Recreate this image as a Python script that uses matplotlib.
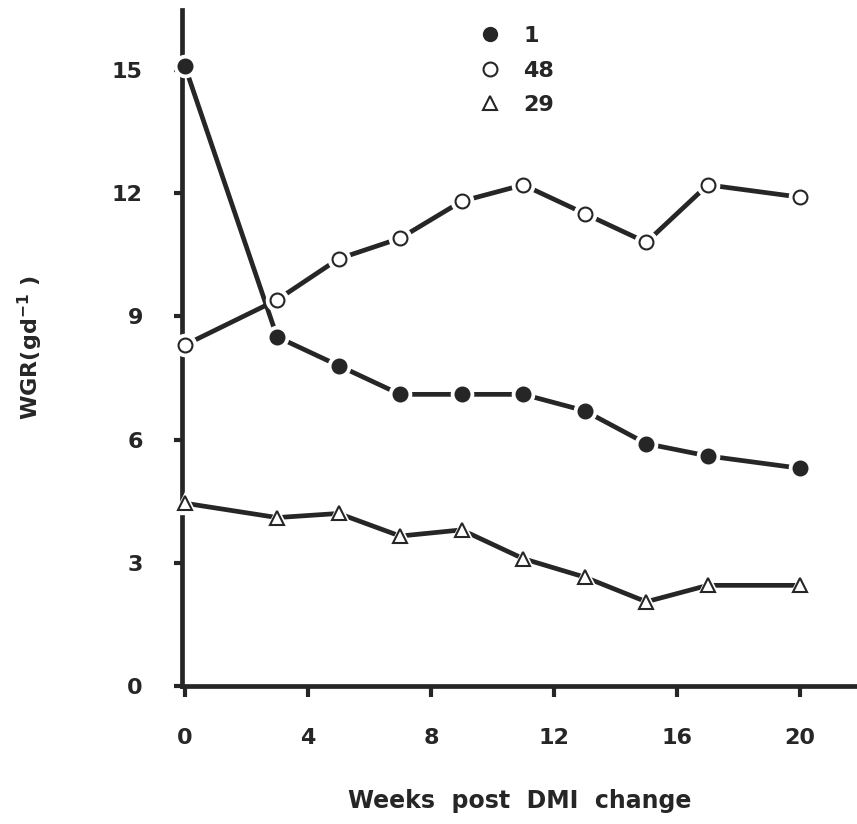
import matplotlib
matplotlib.use('Agg')
import matplotlib.pyplot as plt

# weeks after the DMI change
weeks = [0, 3, 5, 7, 9, 11, 13, 15, 17, 20]

# WGR values, one list per animal
wgr_1 = [15.1, 8.5, 7.8, 7.1, 7.1, 7.1, 6.7, 5.9, 5.6, 5.3]
wgr_48 = [8.3, 9.4, 10.4, 10.9, 11.8, 12.2, 11.5, 10.8, 12.2, 11.9]
wgr_29 = [4.45, 4.1, 4.2, 3.65, 3.8, 3.1, 2.65, 2.05, 2.45, 2.45]

x_ticks = [0, 4, 8, 12, 16, 20]
y_ticks = [0, 3, 6, 9, 12, 15]

plt.rcParams['font.family'] = ['DejaVu Sans']
plt.rcParams['font.weight'] = 'bold'

fig = plt.figure(figsize=(8.57, 8.24), dpi=100)
ax = fig.add_axes([0.212, 0.1675, 0.788, 0.82])

ink = '#262626'

# each series: thick line, white halo behind marker so the line stops short
for y, mk, face in [(wgr_1, 'o', ink), (wgr_48, 'o', 'white'), (wgr_29, '^', 'white')]:
    ax.plot(weeks, y, color=ink, lw=3.4, solid_capstyle='butt', zorder=2, clip_on=False)
    ax.plot(weeks, y, ls='none', marker=mk, ms=16, mfc='white', mec='white',
            zorder=3, clip_on=False)
    ax.plot(weeks, y, ls='none', marker=mk, ms=10, mfc=face, mec=ink, mew=1.5,
            zorder=4, clip_on=False)

ax.set_xlim(-0.1, 21.85)
ax.set_ylim(0, 16.45)

for side in ['top', 'right']:
    ax.spines[side].set_visible(False)
for side in ['left', 'bottom']:
    ax.spines[side].set_linewidth(3.4)
    ax.spines[side].set_color(ink)

ax.set_xticks(x_ticks)
ax.set_yticks(y_ticks)
ax.tick_params(axis='x', direction='out', length=8, width=3, color=ink,
               pad=22, labelsize=16, labelcolor=ink)
ax.tick_params(axis='y', direction='out', length=6, width=3, color=ink,
               pad=22, labelsize=16, labelcolor=ink)

ax.set_xlabel('Weeks  post  DMI  change', fontsize=17, fontweight='bold',
              color=ink, labelpad=30)
ax.set_ylabel('WGR(gd$^{-1}$ )', fontsize=16, fontweight='bold',
              color=ink, labelpad=48)

# legend with marker-only entries
h1, = ax.plot([], [], ls='none', marker='o', ms=10, mfc=ink, mec=ink)
h2, = ax.plot([], [], ls='none', marker='o', ms=10, mfc='white', mec=ink, mew=1.5)
h3, = ax.plot([], [], ls='none', marker='^', ms=10, mfc='white', mec=ink, mew=1.5)
ax.legend([h1, h2, h3], ['1', '48', '29'], frameon=False, fontsize=16,
          loc='upper left', bbox_to_anchor=(0.394, 1.006), handletextpad=0.5,
          labelspacing=0.65, labelcolor=ink)

fig.savefig('out.png', dpi=100)
